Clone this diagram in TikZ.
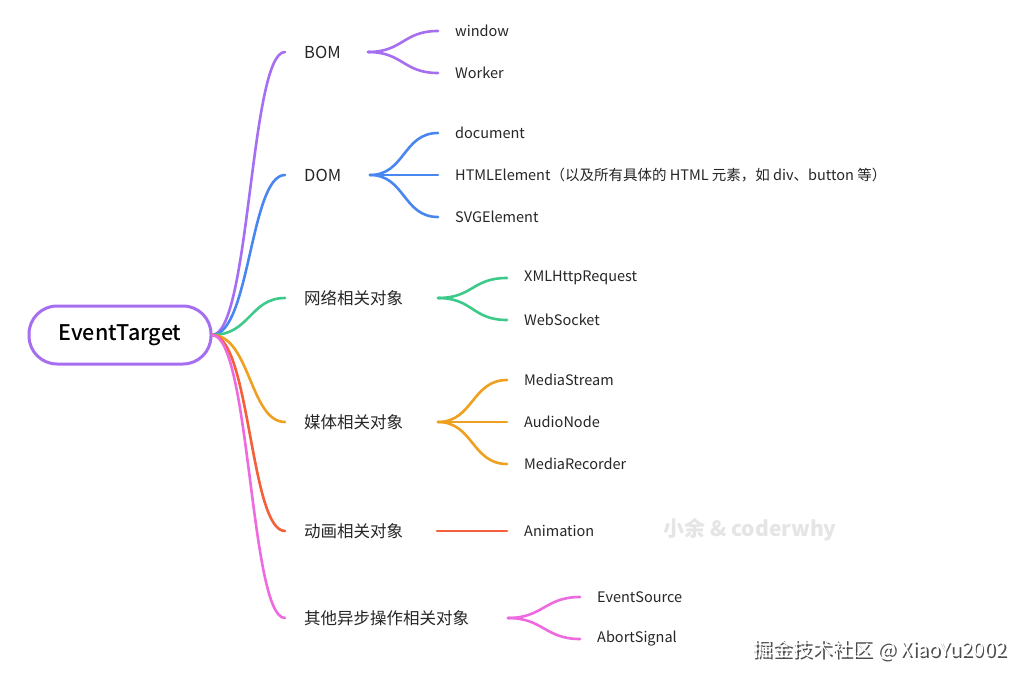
\documentclass[tikz,border=0pt]{standalone}
\usepackage{fontspec}
\setmainfont{Noto Sans CJK SC}
\newfontfamily\medfont{Noto Sans CJK SC Medium}
\definecolor{cP}{HTML}{A66EF0}
\definecolor{cB}{HTML}{4A86F0}
\definecolor{cG}{HTML}{3CC98A}
\definecolor{cO}{HTML}{F0A020}
\definecolor{cR}{HTML}{F4603A}
\definecolor{cK}{HTML}{EE6ADF}
\begin{document}
\begin{tikzpicture}[x=1pt,y=-1pt,
  cat/.style={anchor=west,inner sep=0pt,font=\fontsize{16.5}{18}\selectfont,text=black!85},
  leaf/.style={anchor=west,inner sep=0pt,font=\fontsize{14.5}{16}\selectfont,text=black!85},
  br/.style={line width=2.6pt,line cap=round}]
\useasboundingbox (0,0) rectangle (1031,685);
\fill[white] (0,0) rectangle (1031,685);
\node[draw=cP,line width=3pt,rounded corners=28pt,minimum width=182pt,minimum height=58pt,font=\fontsize{21.5}{24}\selectfont\medfont] (root) at (120,335) {EventTarget};
\coordinate (r) at (212,335);
% categories
\node[cat] (bom) at (304,52) {BOM};
\node[cat] (dom) at (304,175) {DOM};
\node[cat] (net) at (304,298) {网络相关对象};
\node[cat] (med) at (304,422) {媒体相关对象};
\node[cat] (ani) at (304,531) {动画相关对象};
\node[cat] (oth) at (304,618) {其他异步操作相关对象};
\foreach \n/\c/\y in {bom/cP/52,dom/cB/175,net/cG/298,med/cO/422,ani/cR/531,oth/cK/618}
  \draw[br,\c] (r) .. controls (250,335) and (250,\y) .. (285,\y);
% leaves
\newcommand\leafset[5]{% x0 y0 x1 color list
  \foreach \t/\yy in {#5}{
    \draw[br,#4] (#1,#2) .. controls ({#1+35},#2) and ({#3-35},\yy) .. (#3,\yy);
    \node[leaf] at ({#3+17},\yy) {\t};}}
\leafset{368}{52}{438}{cP}{window/31,Worker/73}
\leafset{370}{175}{438}{cB}{document/133,{HTMLElement（以及所有具体的 HTML 元素，如 div、button 等）}/175,SVGElement/217}
\leafset{438}{298}{507}{cG}{XMLHttpRequest/278,WebSocket/320}
\leafset{438}{422}{507}{cO}{MediaStream/380,AudioNode/422,MediaRecorder/464}
\leafset{437}{531}{507}{cR}{Animation/531}
\leafset{508}{618}{580}{cK}{EventSource/597,AbortSignal/639}
\node[text=black!10,font=\fontsize{21}{24}\selectfont\bfseries] (wm) at (750,530) {小余 \& coderwhy};
\node[text=black!70,font=\fontsize{20}{22}\selectfont,anchor=east] (wm2s) at (1011.8,651.8) {掘金技术社区 @ XiaoYu2002};
\node[text=white,font=\fontsize{20}{22}\selectfont,anchor=east] (wm2) at (1010,650) {掘金技术社区 @ XiaoYu2002};
\end{tikzpicture}
\end{document}
